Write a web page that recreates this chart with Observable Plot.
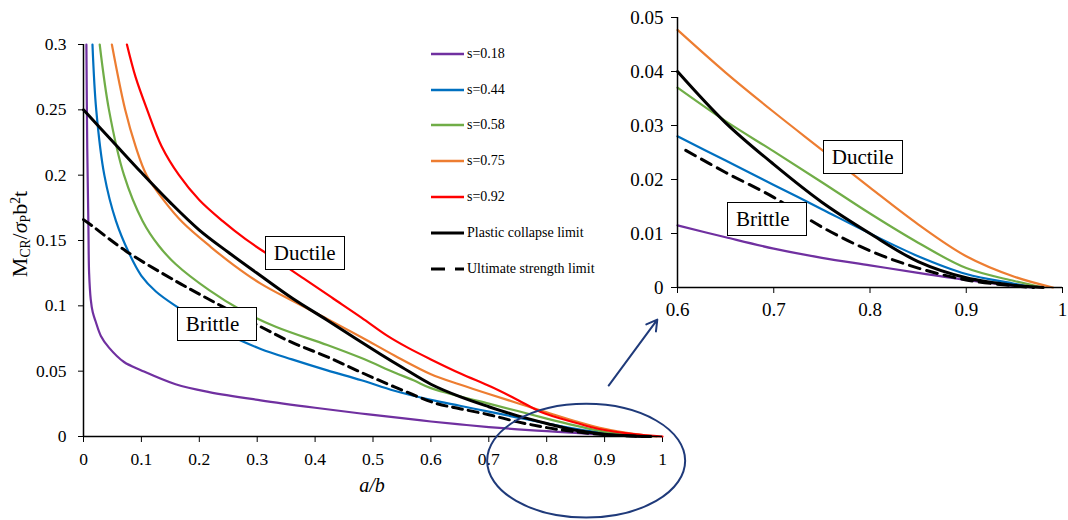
<!DOCTYPE html>
<html><head><meta charset="utf-8">
<script src="https://cdn.jsdelivr.net/npm/d3@7"></script>
<script src="https://cdn.jsdelivr.net/npm/@observablehq/plot@0.6"></script>
<style>
body{margin:0;background:#fff;font-family:"Liberation Serif","Tinos","Times New Roman","DejaVu Serif",serif;color:#000;}
#wrap{position:relative;width:1068px;height:520px;overflow:hidden;background:#fff;font-family:"Liberation Serif","Tinos","Times New Roman","DejaVu Serif",serif;}
#wrap svg{position:absolute;overflow:visible;}
#wrap svg text{font-family:"Liberation Serif","Tinos","Times New Roman","DejaVu Serif",serif;}
.box{position:absolute;box-sizing:border-box;width:80px;height:34px;background:#fff;border:1px solid #000;font-size:21px;padding:0 0 0 8px;transform:translate(-50%,-50%);line-height:32px;white-space:nowrap;text-align:left;}
.legend{position:absolute;left:431px;top:36px;font-size:14px;}
.legend .row{height:35.8px;display:flex;align-items:center;}
.legend .row span{margin-left:3px;}
.ytitle{position:absolute;left:20px;top:234px;transform:translate(-50%,-50%) rotate(-90deg);font-size:22px;white-space:nowrap;}
.ytitle sub{font-size:0.62em;vertical-align:-0.25em;line-height:0;}
.ytitle sup{font-size:0.62em;vertical-align:0.55em;line-height:0;}
.xtitle{position:absolute;left:372px;top:485px;transform:translate(-50%,-50%);font-size:20px;font-style:italic;}
</style></head><body><div id="wrap"></div>
<script>
// ---------- data ----------
const seriesNames = ["s=0.18","s=0.44","s=0.58","s=0.75","s=0.92","Plastic collapse limit","Ultimate strength limit"];
const seriesColors = ["#7030A0","#0070C0","#70AD47","#ED7D31","#FF0000","#000000","#000000"];
const s018 = [[0.005,0.30],[0.0065,0.22],[0.0085,0.16],[0.0097,0.125],[0.0125,0.105],[0.016,0.095],[0.021,0.088],[0.030,0.077],[0.044,0.068],[0.070,0.057],[0.100,0.0506],[0.159,0.040],[0.217,0.034],[0.306,0.0277],[0.400,0.022],[0.479,0.0176],[0.550,0.0140],[0.600,0.0115],[0.650,0.0093],[0.700,0.0072],[0.750,0.0055],[0.800,0.0041],[0.850,0.0027],[0.900,0.0014],[0.950,0.0003],[0.970,0]];
const s044 = [[0.0155,0.30],[0.022,0.25],[0.036,0.20],[0.056,0.165],[0.079,0.140],[0.100,0.123],[0.125,0.111],[0.159,0.100],[0.200,0.089],[0.246,0.0786],[0.306,0.067],[0.360,0.059],[0.421,0.0506],[0.480,0.043],[0.537,0.035],[0.600,0.028],[0.650,0.0235],[0.700,0.019],[0.750,0.0145],[0.800,0.010],[0.850,0.0058],[0.900,0.0025],[0.950,0.0007],[0.970,0]];
const s058 = [[0.028,0.30],[0.044,0.25],[0.070,0.20],[0.102,0.165],[0.130,0.146],[0.159,0.132],[0.217,0.112],[0.275,0.096],[0.332,0.084],[0.421,0.070],[0.480,0.060],[0.537,0.049],[0.570,0.043],[0.600,0.037],[0.650,0.0308],[0.700,0.0252],[0.750,0.0195],[0.800,0.0137],[0.850,0.0083],[0.900,0.0036],[0.950,0.0012],[0.980,0]];
const s075 = [[0.049,0.30],[0.072,0.25],[0.090,0.222],[0.109,0.20],[0.140,0.180],[0.171,0.164],[0.220,0.145],[0.260,0.131],[0.306,0.117],[0.360,0.104],[0.421,0.090],[0.480,0.076],[0.537,0.062],[0.600,0.0477],[0.650,0.0398],[0.700,0.0325],[0.750,0.0255],[0.800,0.0185],[0.850,0.0117],[0.900,0.0058],[0.950,0.0020],[0.990,0]];
const s092 = [[0.075,0.30],[0.090,0.275],[0.110,0.25],[0.135,0.222],[0.165,0.20],[0.200,0.181],[0.240,0.165],[0.280,0.151],[0.330,0.136],[0.380,0.121],[0.430,0.106],[0.480,0.091],[0.525,0.077],[0.560,0.068],[0.600,0.059],[0.652,0.048],[0.704,0.038],[0.750,0.028],[0.790,0.0188],[0.850,0.0105],[0.876,0.0073],[0.900,0.005],[0.950,0.0018],[1.000,0]];
const plastic = [[0,0.25],[0.050,0.226],[0.100,0.202],[0.150,0.179],[0.200,0.158],[0.250,0.141],[0.306,0.123],[0.360,0.106],[0.421,0.089],[0.470,0.075],[0.513,0.063],[0.550,0.053],[0.600,0.040],[0.650,0.0305],[0.700,0.0228],[0.750,0.0158],[0.800,0.010],[0.850,0.0048],[0.900,0.0018],[0.950,0.0004],[0.980,0]];
const ultimate = [[0,0.166],[0.0155,0.161],[0.073,0.142],[0.159,0.119],[0.200,0.109],[0.246,0.098],[0.306,0.084],[0.360,0.072],[0.421,0.061],[0.480,0.049],[0.537,0.038],[0.6086,0.0254],[0.650,0.0213],[0.700,0.0167],[0.750,0.0112],[0.800,0.0068],[0.850,0.0036],[0.900,0.0014],[0.950,0.0003],[0.970,0]];
const allSeries = [s018, s044, s058, s075, s092, plastic, ultimate];

const mainXTicks = [0,0.1,0.2,0.3,0.4,0.5,0.6,0.7,0.8,0.9,1];
const mainYTicks = [0,0.05,0.1,0.15,0.2,0.25,0.3];
const insetXTicks = [0.6,0.7,0.8,0.9,1];
const insetYTicks = [0,0.01,0.02,0.03,0.04,0.05];
const insetSeries = ["s=0.18","s=0.44","s=0.58","s=0.75","Plastic collapse limit","Ultimate strength limit"];

// annotations (in plot data units)
const mainLabels = [{text:"Ductile", x:0.383, y:0.140},{text:"Brittle", x:0.231, y:0.0857}];
const insetLabels = [{text:"Ductile", x:0.793, y:0.0241},{text:"Brittle", x:0.6934, y:0.01266}];
const zoomEllipse = {cx:0.869, cy:-0.0189, rx:0.171, ry:0.0435};
const zoomArrow = [{x1:0.907, y1:0.039, x2:0.991, y2:0.0895}];
const navy = "#1F3A7A";

// ---------- build ----------
const FONT = "'Liberation Serif','Tinos','Times New Roman','DejaVu Serif',serif";
const rows = [];
allSeries.forEach((arr, i) => arr.forEach(([x, y]) => rows.push({x, y, series: seriesNames[i]})));
const fmt = d => String(+d.toFixed(3));
const styleOf = name => {
  const i = seriesNames.indexOf(name);
  if (name === "Plastic collapse limit") return {stroke: "#000", strokeWidth: 3};
  if (name === "Ultimate strength limit") return {stroke: "#000", strokeWidth: 3, strokeDasharray: "10,6"};
  return {stroke: seriesColors[i], strokeWidth: 2.2};
};
const order = ["s=0.18","s=0.44","s=0.58","s=0.75","s=0.92","Ultimate strength limit","Plastic collapse limit"];
function lineMarks(names, filter, dash) {
  return order.filter(n => names.includes(n)).map(n => {
    const st = styleOf(n);
    if (dash && st.strokeDasharray) st.strokeDasharray = dash;
    return Plot.line(rows.filter(r => r.series === n && filter(r)), {x: "x", y: "y", curve: "catmull-rom", ...st});
  });
}
const wrap = document.getElementById("wrap");
const baseStyle = {fontFamily: FONT, color: "#000", background: "transparent", overflow: "visible"};

const main = Plot.plot({
  width: 680, height: 520,
  marginLeft: 83, marginRight: 18, marginTop: 44, marginBottom: 84,
  style: {...baseStyle, fontSize: "17.5px"},
  x: {domain: [0, 1], ticks: mainXTicks, tickSize: 6, tickPadding: 10, tickFormat: fmt, label: null},
  y: {domain: [0, 0.3], ticks: mainYTicks, tickSize: 5, tickPadding: 12, tickFormat: fmt, label: null},
  marks: [
    ...lineMarks(seriesNames, () => true),
    Plot.ruleX([0], {stroke: "#000", strokeWidth: 1.5}),
    Plot.ruleY([0], {stroke: "#000", strokeWidth: 1.5}),
    Plot.arrow(zoomArrow, {x1: "x1", y1: "y1", x2: "x2", y2: "y2", stroke: navy, strokeWidth: 2, headLength: 9})
  ]
});
main.style.left = "0px"; main.style.top = "0px";
wrap.appendChild(main);
const mx = main.scale("x"), my = main.scale("y");
d3.select(main).append("ellipse")
  .attr("cx", mx.apply(zoomEllipse.cx)).attr("cy", my.apply(zoomEllipse.cy))
  .attr("rx", mx.apply(zoomEllipse.cx + zoomEllipse.rx) - mx.apply(zoomEllipse.cx))
  .attr("ry", my.apply(zoomEllipse.cy - zoomEllipse.ry) - my.apply(zoomEllipse.cy))
  .attr("fill", "none").attr("stroke", navy).attr("stroke-width", 2);

const insetLeft = 610;
const inset = Plot.plot({
  width: 458, height: 320,
  marginLeft: 67, marginRight: 6, marginTop: 17, marginBottom: 33,
  style: {...baseStyle, fontSize: "19px"},
  x: {domain: [0.6, 1], ticks: insetXTicks, tickSize: 6, tickPadding: 9, tickFormat: fmt, label: null},
  y: {domain: [0, 0.05], ticks: insetYTicks, tickSize: 6, tickPadding: 8, tickFormat: fmt, label: null},
  marks: [
    ...lineMarks(insetSeries, r => r.x >= 0.6, "11,7"),
    Plot.ruleX([0.6], {stroke: "#000", strokeWidth: 1.5}),
    Plot.ruleY([0], {stroke: "#000", strokeWidth: 1.5})
  ]
});
inset.style.left = insetLeft + "px"; inset.style.top = "0px";
wrap.appendChild(inset);
const ix = inset.scale("x"), iy = inset.scale("y");

function addBox(t, left, top) {
  const d = document.createElement("div");
  d.className = "box"; d.textContent = t;
  d.style.left = left + "px"; d.style.top = top + "px";
  wrap.appendChild(d);
}
mainLabels.forEach(l => addBox(l.text, mx.apply(l.x), my.apply(l.y)));
insetLabels.forEach(l => addBox(l.text, insetLeft + ix.apply(l.x), iy.apply(l.y)));

// legend
const leg = document.createElement("div");
leg.className = "legend";
seriesNames.forEach((n, i) => {
  const row = document.createElement("div");
  row.className = "row";
  const dash = n === "Ultimate strength limit" ? 'stroke-dasharray="14,10"' : "";
  const w = (n === "Plastic collapse limit" || n === "Ultimate strength limit") ? 3.2 : 2.6;
  row.innerHTML = `<svg width="33" height="8" style="position:static"><line x1="0" y1="4" x2="33" y2="4" stroke="${seriesColors[i]}" stroke-width="${w}" ${dash}/></svg><span>${n}</span>`;
  leg.appendChild(row);
});
wrap.appendChild(leg);

// axis titles
const yt = document.createElement("div");
yt.className = "ytitle";
yt.innerHTML = 'M<sub>CR</sub>/<i>σ</i><sub>P</sub>b<sup>2</sup>t';
wrap.appendChild(yt);
const xt = document.createElement("div");
xt.className = "xtitle"; xt.textContent = "a/b";
wrap.appendChild(xt);
</script></body></html>
